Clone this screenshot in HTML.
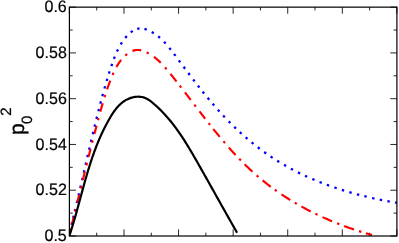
<!DOCTYPE html>
<html><head><meta charset="utf-8"><title>plot</title>
<style>html,body{margin:0;padding:0;background:#fff}svg{display:block}text{font-family:"Liberation Sans",sans-serif;fill:#000;text-rendering:geometricPrecision}</style></head>
<body>
<svg width="399" height="243" viewBox="0 0 399 243">
<rect x="0" y="0" width="399" height="243" fill="#fff"/>
<defs><clipPath id="c"><rect x="69.4" y="7.15" width="327.50" height="228.85"/></clipPath></defs>
<path d="M69.40 236.0 v-6.6 M69.40 7.15 v6.6 M96.69 236.0 v-3.3 M96.69 7.15 v3.3 M123.98 236.0 v-6.6 M123.98 7.15 v6.6 M151.28 236.0 v-3.3 M151.28 7.15 v3.3 M178.57 236.0 v-6.6 M178.57 7.15 v6.6 M205.86 236.0 v-3.3 M205.86 7.15 v3.3 M233.15 236.0 v-6.6 M233.15 7.15 v6.6 M260.44 236.0 v-3.3 M260.44 7.15 v3.3 M287.73 236.0 v-6.6 M287.73 7.15 v6.6 M315.02 236.0 v-3.3 M315.02 7.15 v3.3 M342.32 236.0 v-6.6 M342.32 7.15 v6.6 M369.61 236.0 v-3.3 M369.61 7.15 v3.3 M396.90 236.0 v-6.6 M396.90 7.15 v6.6 M69.4 236.00 h6.6 M396.9 236.00 h-6.6 M69.4 213.12 h3.3 M396.9 213.12 h-3.3 M69.4 190.23 h6.6 M396.9 190.23 h-6.6 M69.4 167.34 h3.3 M396.9 167.34 h-3.3 M69.4 144.46 h6.6 M396.9 144.46 h-6.6 M69.4 121.58 h3.3 M396.9 121.58 h-3.3 M69.4 98.69 h6.6 M396.9 98.69 h-6.6 M69.4 75.81 h3.3 M396.9 75.81 h-3.3 M69.4 52.92 h6.6 M396.9 52.92 h-6.6 M69.4 30.04 h3.3 M396.9 30.04 h-3.3 M69.4 7.15 h6.6 M396.9 7.15 h-6.6" stroke="#000" stroke-width="0.85" fill="none"/>
<g clip-path="url(#c)" fill="none">
<path d="M69.85 231.20 L70.44 228.88 M71.49 224.70 L72.07 222.37 M73.15 218.01 L73.72 215.68 M74.78 211.31 L75.34 208.97 M76.76 202.99 L77.31 200.66 M78.51 195.56 L79.05 193.22 M80.28 187.93 L80.82 185.59 M82.04 180.30 L82.58 177.96 M83.79 172.66 L84.33 170.32 M85.59 164.85 L86.13 162.51 M87.34 157.21 L87.88 154.87 M89.07 149.76 L89.61 147.42 M90.89 141.96 L91.44 139.62 M92.74 134.17 L93.30 131.83 M94.53 126.74 L95.10 124.41 M96.44 118.98 L97.02 116.65 M98.38 111.24 L98.98 108.92 M100.33 103.70 L100.94 101.38 M102.33 96.18 L102.96 93.87 M104.45 88.51 L105.11 86.20 M106.62 81.01 L107.32 78.71 M108.88 73.70 L109.61 71.41 M111.39 66.03 L112.18 63.76 M113.93 58.89 L114.79 56.65 M116.96 51.56 L117.99 49.39 M120.69 44.41 L121.96 42.37 M125.21 37.94 L126.77 36.12 M130.73 32.34 L132.68 30.94 M137.17 28.87 L139.54 28.47 M144.46 28.95 L146.77 29.63 M151.72 31.92 L153.78 33.15 M158.19 36.33 L160.02 37.88 M164.03 41.79 L165.66 43.55 M169.32 47.88 L170.81 49.76 M174.05 54.01 L175.50 55.93 M178.80 60.33 L180.24 62.25 M183.63 66.78 L185.07 68.70 M188.34 73.05 L189.78 74.97 M193.17 79.44 L194.62 81.34 M197.93 85.62 L199.40 87.51 M202.63 91.60 L204.13 93.48 M207.64 97.80 L209.17 99.65 M212.63 103.77 L214.20 105.59 M217.87 109.79 L219.48 111.57 M223.14 115.56 L224.79 117.31 M228.68 121.35 L230.37 123.05 M234.24 126.87 L235.97 128.53 M239.82 132.13 L241.59 133.74 M245.66 137.35 L247.48 138.92 M251.65 142.41 L253.52 143.92 M257.79 147.28 L259.70 148.73 M264.21 152.06 L266.16 153.45 M270.63 156.52 L272.63 157.85 M277.19 160.76 L279.23 162.02 M284.04 164.87 L286.12 166.07 M290.85 168.68 L292.97 169.80 M297.95 172.35 L300.10 173.41 M305.00 175.73 L307.18 176.73 M312.30 178.99 L314.51 179.93 M319.54 181.98 L321.77 182.86 M326.85 184.78 L329.11 185.60 M334.41 187.46 L336.68 188.22 M341.86 189.90 L344.15 190.61 M349.36 192.17 L351.67 192.83 M356.91 194.27 L359.23 194.88 M364.32 196.17 L366.65 196.73 M372.11 198.00 L374.46 198.52 M379.75 199.63 L382.10 200.11 M387.39 201.13 L389.75 201.56 M395.04 202.48 L397.41 202.88" stroke="#0000ff" stroke-width="2.3"/>
<path d="M69.30 234.91 L69.51 234.10 L69.71 233.28 L69.91 232.46 L70.12 231.64 L70.32 230.82 L70.52 230.00 L70.73 229.18 L70.93 228.37 M71.86 224.59 L72.06 223.77 L72.27 222.95 L72.47 222.13 L72.67 221.30 L72.87 220.48 L73.08 219.66 L73.28 218.84 L73.48 218.01 L73.68 217.19 L73.72 217.03 M75.06 211.60 L75.63 209.27 M77.29 202.50 L77.53 201.51 L77.77 200.52 L78.02 199.53 L78.26 198.53 L78.50 197.54 L78.75 196.55 L78.99 195.56 L79.23 194.56 L79.27 194.40 M80.70 188.61 L81.27 186.28 M82.82 179.99 L83.06 178.99 L83.31 178.00 L83.55 177.00 L83.80 176.01 L84.04 175.01 L84.29 174.02 L84.54 173.03 L84.78 172.03 L84.91 171.53 M86.43 165.41 L87.01 163.08 M88.58 156.80 L88.79 155.98 L89.00 155.15 L89.21 154.32 L89.42 153.50 L89.62 152.67 L89.83 151.84 L90.04 151.02 L90.25 150.19 L90.46 149.37 L90.54 149.04 M92.14 142.78 L92.74 140.46 M94.39 134.05 L94.65 133.07 L94.90 132.08 L95.16 131.10 L95.42 130.11 L95.68 129.13 L95.93 128.15 L96.19 127.16 L96.45 126.18 L96.58 125.69 M98.00 120.31 L98.62 117.99 M100.34 111.66 L100.61 110.69 L100.88 109.71 L101.15 108.74 L101.43 107.76 L101.70 106.79 L101.98 105.82 L102.26 104.84 L102.54 103.87 L102.73 103.22 M104.53 97.23 L105.25 94.94 M107.07 89.43 L107.41 88.45 L107.74 87.48 L108.09 86.50 L108.44 85.53 L108.79 84.55 L109.15 83.58 L109.51 82.60 L109.88 81.63 L110.25 80.65 M112.56 74.94 L113.53 72.75 M116.45 66.99 L116.97 66.09 L117.50 65.21 L118.04 64.33 L118.59 63.47 L119.17 62.63 L119.75 61.80 L120.36 60.98 L120.98 60.18 L121.19 59.92 M125.29 55.55 L127.14 54.02 M132.41 50.97 L133.33 50.64 L134.25 50.37 L135.20 50.16 L136.15 50.02 L137.12 49.96 L138.09 49.96 L139.07 50.04 L140.06 50.18 L141.05 50.38 L141.22 50.42 M146.61 52.40 L148.75 53.50 M153.92 56.85 L154.73 57.47 L155.52 58.09 L156.31 58.73 L157.08 59.38 L157.84 60.05 L158.58 60.73 L159.32 61.41 L160.05 62.11 L160.77 62.82 M165.01 67.38 L166.58 69.20 M170.45 73.91 L171.20 74.84 L171.94 75.77 L172.69 76.70 L173.43 77.63 L174.17 78.57 L174.92 79.50 L175.66 80.44 L176.39 81.37 L176.50 81.51 M179.76 85.67 L181.23 87.56 M184.99 92.43 L185.61 93.24 L186.24 94.06 L186.86 94.87 L187.49 95.68 L188.11 96.50 L188.73 97.31 L189.36 98.13 L189.98 98.95 L190.61 99.76 L190.71 99.90 M194.35 104.66 L195.81 106.56 M199.45 111.32 L200.08 112.13 L200.70 112.94 L201.33 113.76 L201.96 114.57 L202.59 115.38 L203.21 116.19 L203.84 117.01 L204.47 117.82 L205.10 118.63 L205.21 118.76 M208.58 123.07 L210.07 124.95 M213.26 128.96 L214.01 129.89 L214.76 130.82 L215.51 131.75 L216.27 132.67 L217.02 133.60 L217.78 134.52 L218.54 135.44 L219.30 136.36 L219.73 136.89 M223.45 141.32 L225.01 143.14 M228.80 147.49 L229.59 148.38 L230.38 149.27 L231.18 150.16 L231.97 151.04 L232.77 151.92 L233.57 152.79 L234.38 153.67 L235.18 154.54 L235.65 155.04 M239.25 158.84 L240.92 160.56 M244.62 164.27 L245.58 165.22 L246.56 166.16 L247.53 167.10 L248.51 168.04 L249.50 168.97 L250.48 169.89 L251.48 170.81 L252.48 171.72 M256.64 175.43 L258.46 176.99 M262.62 180.45 L263.54 181.20 L264.47 181.94 L265.40 182.68 L266.34 183.41 L267.28 184.14 L268.22 184.86 L269.16 185.59 L270.11 186.30 L270.79 186.81 M274.77 189.72 L276.72 191.10 M281.49 194.37 L282.49 195.03 L283.48 195.69 L284.48 196.34 L285.48 196.99 L286.49 197.63 L287.49 198.27 L288.51 198.91 L289.52 199.54 L290.25 199.99 M294.77 202.72 L296.85 203.93 M301.45 206.53 L302.50 207.11 L303.55 207.68 L304.60 208.25 L305.66 208.81 L306.72 209.37 L307.77 209.93 L308.84 210.48 L309.90 211.03 L310.66 211.42 M315.40 213.78 L317.56 214.82 M322.52 217.12 L323.61 217.62 L324.70 218.11 L325.79 218.59 L326.89 219.07 L327.98 219.55 L329.08 220.02 L330.18 220.49 L331.28 220.95 L332.07 221.28 M337.12 223.34 L339.35 224.21 M344.12 226.02 L345.24 226.43 L346.35 226.84 L347.47 227.24 L348.59 227.64 L349.71 228.03 L350.84 228.42 L351.96 228.81 L353.08 229.19 L354.05 229.52 M359.02 231.14 L361.31 231.86 M365.81 233.22 L366.46 233.41 L367.10 233.60 L367.75 233.78 L368.40 233.97 L369.04 234.15 L369.69 234.34 L370.34 234.52 L370.98 234.70 L371.63 234.88 L371.95 234.96" stroke="#ff0000" stroke-width="2.15"/>
<path d="M69.29 236.04 L69.82 234.44 L70.34 232.84 L70.86 231.23 L71.36 229.63 L71.86 228.02 L72.36 226.41 L72.85 224.80 L73.33 223.19 L73.81 221.58 L74.28 219.96 L74.75 218.35 L75.21 216.73 L75.67 215.12 L76.13 213.50 L76.58 211.88 L77.03 210.26 L77.48 208.65 L77.92 207.03 L78.37 205.41 L78.81 203.79 L79.25 202.17 L79.69 200.55 L80.13 198.93 L80.56 197.31 L81.00 195.69 L81.44 194.07 L81.88 192.46 L82.32 190.84 L82.76 189.22 L83.21 187.61 L83.65 185.99 L84.10 184.38 L84.55 182.77 L85.00 181.15 L85.46 179.54 L85.92 177.93 L86.39 176.33 L86.86 174.72 L87.33 173.12 L87.81 171.51 L88.29 169.91 L88.78 168.31 L89.28 166.72 L89.78 165.12 L90.29 163.53 L90.81 161.94 L91.33 160.35 L91.86 158.76 L92.40 157.18 L92.95 155.60 L93.50 154.02 L94.07 152.45 L94.64 150.87 L95.23 149.31 L95.82 147.74 L96.42 146.18 L97.04 144.62 L97.67 143.06 L98.30 141.51 L98.95 139.96 L99.61 138.41 L100.29 136.87 L100.97 135.33 L101.67 133.80 L102.39 132.27 L103.11 130.75 L103.85 129.22 L104.61 127.71 L105.38 126.19 L106.16 124.69 L106.96 123.18 L107.78 121.68 L108.61 120.19 L109.46 118.70 L110.32 117.22 L111.21 115.76 L112.12 114.31 L113.06 112.89 L114.03 111.49 L115.02 110.13 L116.05 108.81 L117.11 107.53 L118.22 106.30 L119.36 105.11 L120.54 103.99 L121.77 102.93 L123.05 101.93 L124.37 101.00 L125.75 100.15 L127.19 99.38 L128.67 98.69 L130.22 98.10 L131.83 97.60 L133.48 97.20 L135.16 96.91 L136.86 96.74 L138.57 96.70 L140.26 96.79 L141.93 97.02 L143.56 97.40 L145.14 97.94 L146.65 98.64 L148.11 99.47 L149.52 100.41 L150.89 101.43 L152.23 102.51 L153.55 103.61 L154.84 104.73 L156.12 105.86 L157.37 107.01 L158.61 108.17 L159.83 109.34 L161.03 110.53 L162.21 111.73 L163.38 112.95 L164.53 114.18 L165.66 115.42 L166.77 116.67 L167.88 117.93 L168.96 119.21 L170.03 120.49 L171.09 121.79 L172.13 123.10 L173.16 124.42 L174.18 125.74 L175.19 127.08 L176.18 128.42 L177.16 129.78 L178.13 131.14 L179.09 132.51 L180.04 133.89 L180.98 135.27 L181.91 136.66 L182.83 138.06 L183.74 139.47 L184.64 140.88 L185.54 142.30 L186.43 143.72 L187.31 145.14 L188.19 146.58 L189.05 148.01 L189.92 149.45 L190.78 150.89 L191.63 152.34 L192.48 153.79 L193.32 155.24 L194.17 156.70 L195.00 158.15 L195.84 159.61 L196.67 161.07 L197.51 162.53 L198.34 163.99 L199.17 165.45 L200.00 166.91 L200.82 168.37 L201.65 169.84 L202.48 171.30 L203.30 172.76 L204.13 174.22 L204.95 175.69 L205.77 177.15 L206.60 178.61 L207.42 180.08 L208.24 181.54 L209.06 183.00 L209.89 184.47 L210.71 185.93 L211.53 187.39 L212.35 188.86 L213.17 190.32 L213.99 191.78 L214.81 193.25 L215.63 194.71 L216.45 196.18 L217.27 197.64 L218.09 199.10 L218.91 200.57 L219.73 202.03 L220.55 203.49 L221.37 204.96 L222.19 206.42 L223.01 207.88 L223.83 209.35 L224.66 210.81 L225.48 212.27 L226.30 213.73 L227.13 215.19 L227.95 216.66 L228.78 218.12 L229.61 219.58 L230.43 221.04 L231.26 222.50 L232.09 223.96 L232.92 225.42 L233.75 226.88 L234.58 228.33 L235.42 229.79 L236.25 231.25 L237.09 232.71" stroke="#000" stroke-width="2.2" stroke-linejoin="round"/>
</g>
<rect x="69.4" y="7.15" width="327.50" height="228.85" fill="none" stroke="#000" stroke-width="1.2"/>
<g style="will-change:transform">
<text transform="translate(66.8,241.25) scale(1.015,1.05)" font-size="15.8" text-anchor="end" stroke="#000" stroke-width="0.2">0.5</text>
<text transform="translate(66.8,195.48) scale(1.015,1.05)" font-size="15.8" text-anchor="end" stroke="#000" stroke-width="0.2">0.52</text>
<text transform="translate(66.8,149.71) scale(1.015,1.05)" font-size="15.8" text-anchor="end" stroke="#000" stroke-width="0.2">0.54</text>
<text transform="translate(66.8,103.94) scale(1.015,1.05)" font-size="15.8" text-anchor="end" stroke="#000" stroke-width="0.2">0.56</text>
<text transform="translate(66.8,58.17) scale(1.015,1.05)" font-size="15.8" text-anchor="end" stroke="#000" stroke-width="0.2">0.58</text>
<text transform="translate(66.8,12.40) scale(1.015,1.05)" font-size="15.8" text-anchor="end" stroke="#000" stroke-width="0.2">0.6</text>
<text transform="translate(23.7,134.9) rotate(-90)" font-size="21" stroke="#000" stroke-width="0.35">p</text>
<text transform="translate(32,124.1) rotate(-90)" font-size="15" stroke="#000" stroke-width="0.25">0</text>
<text transform="translate(11.1,115.8) rotate(-90)" font-size="15" stroke="#000" stroke-width="0.25">2</text>
</g>
</svg>
</body></html>
